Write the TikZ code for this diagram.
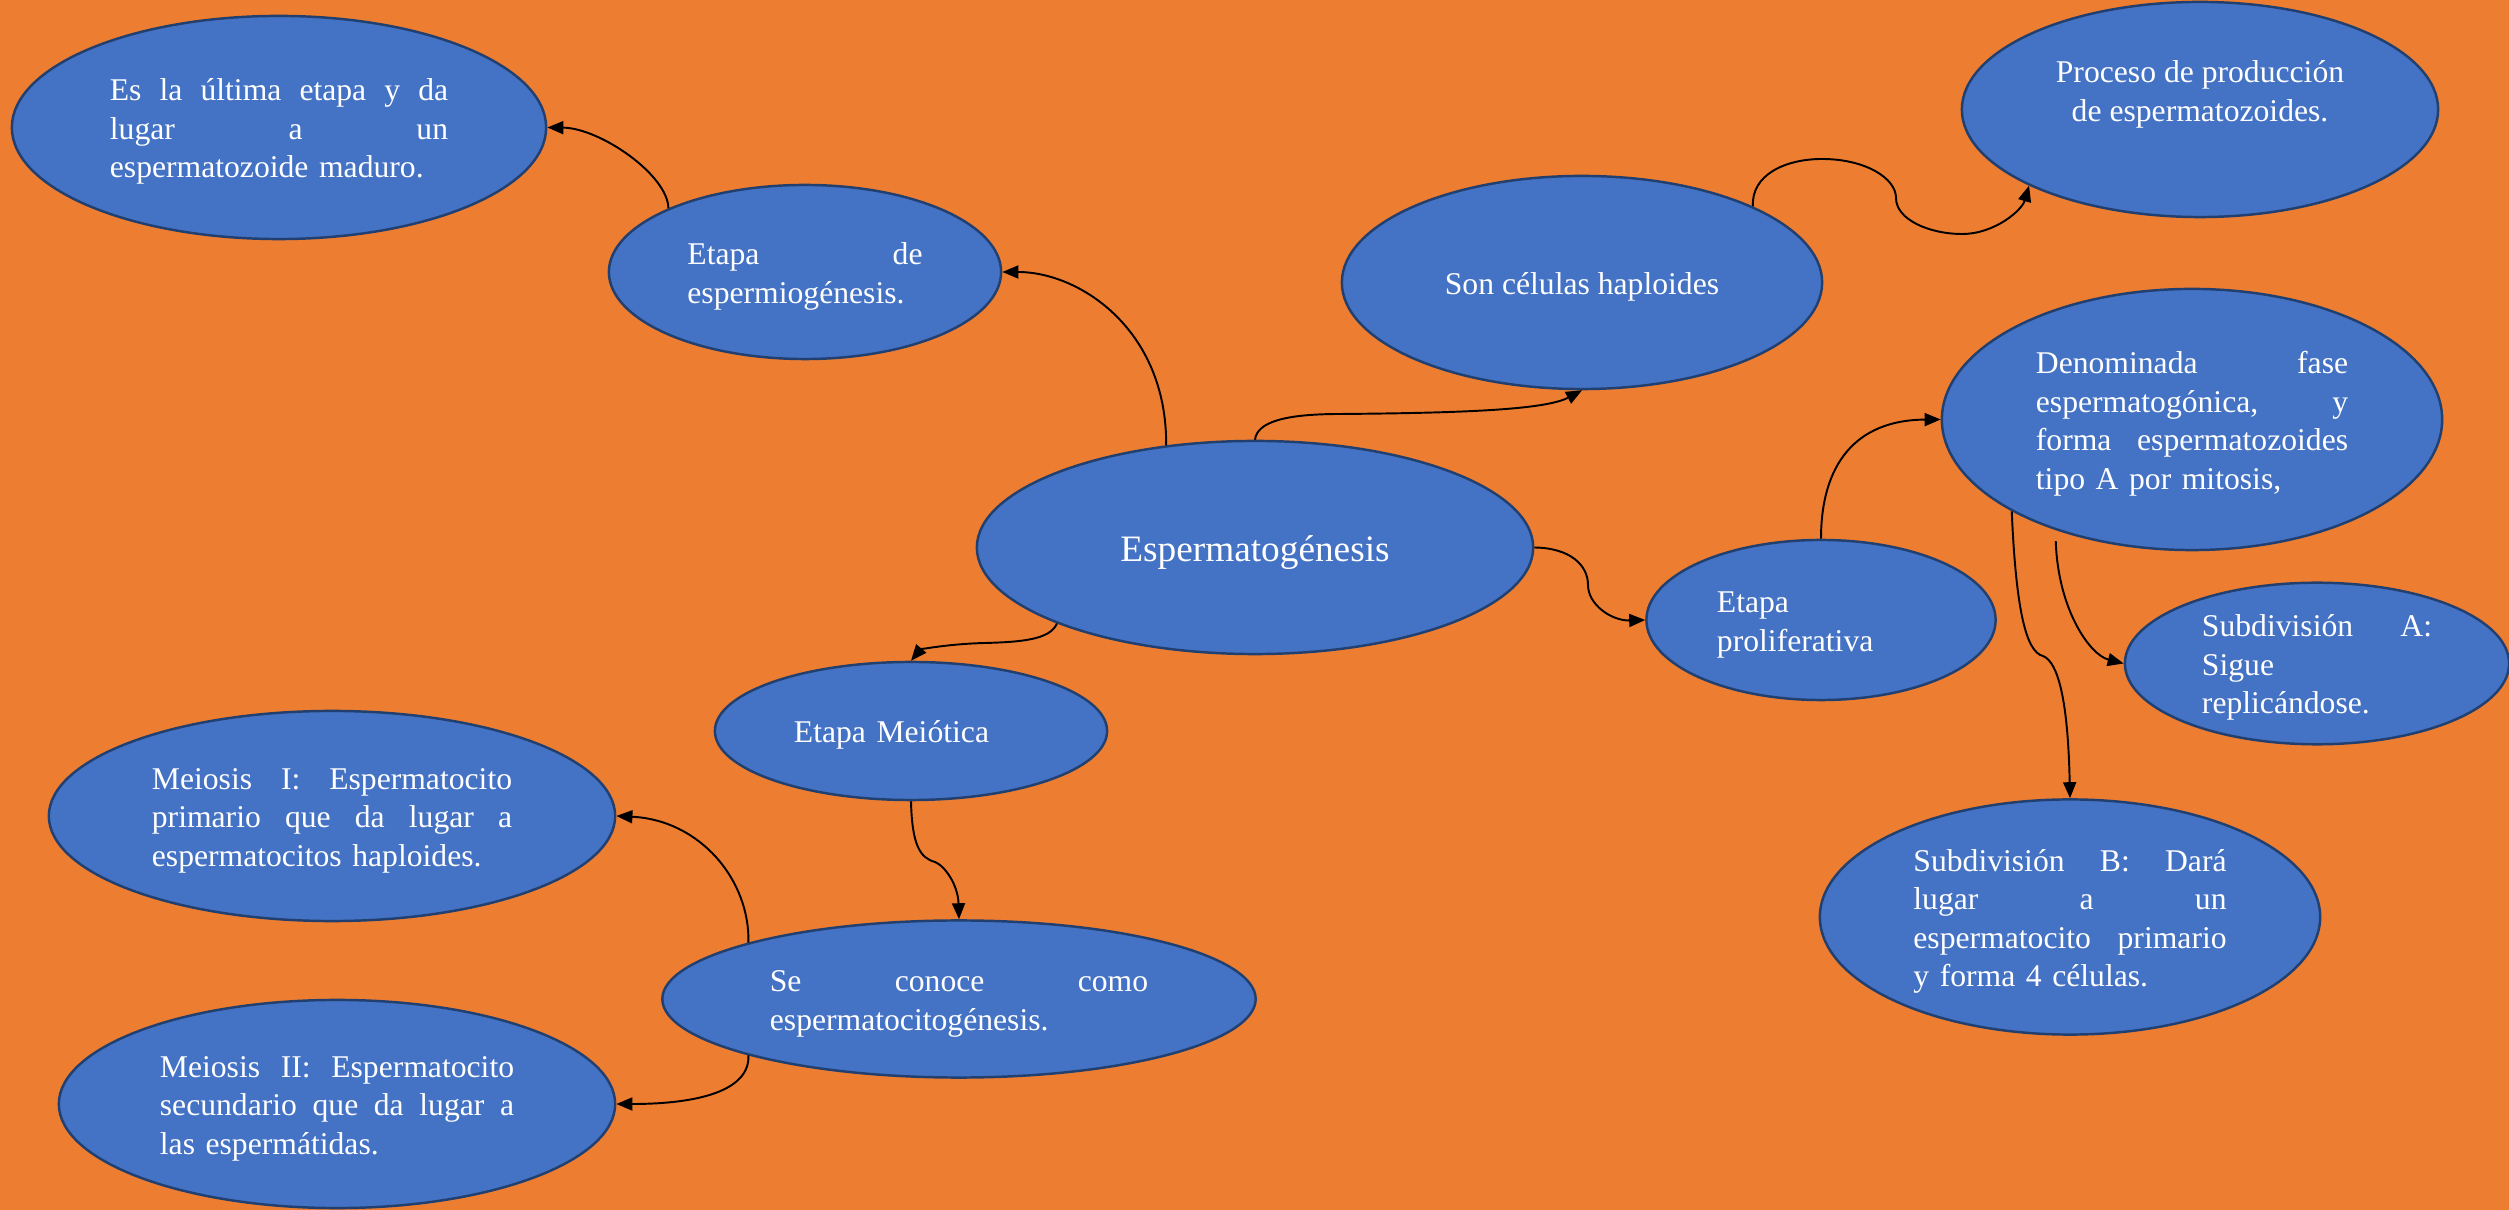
\documentclass[tikz,border=0pt]{standalone}
\usepackage{fontspec}
\setmainfont{Liberation Serif}
\usetikzlibrary{shapes.geometric,arrows.meta}
\definecolor{bg}{HTML}{ED7D31}
\definecolor{bubfill}{HTML}{4472C4}
\definecolor{bubline}{HTML}{22406F}
\newcommand{\jl}[2]{\hbox to #1{#2}}
\tikzset{
  bub/.style={ellipse, draw=bubline, line width=0.7pt, fill=bubfill, inner sep=0pt,
    text=white, font=\fontsize{9pt}{10.95pt}\selectfont, text height=0.305cm,
    execute at begin node=\setlength{\parindent}{0pt}},
  conn/.style={draw=black, line width=0.55pt, -{Triangle[length=0.16cm,width=0.13cm]}},
}
\begin{document}
\begin{tikzpicture}[x=0.01cm,y=-0.01cm]
\fill[bg] (0,0) rectangle (2509,1210);
\useasboundingbox (0,0) rectangle (2509,1210);

\node[bub, minimum width=5.34cm, minimum height=2.23cm, text width=3.38cm] (e1) at (279,127.5)
  {\jl{3.38cm}{Es\hfill la\hfill última\hfill etapa\hfill y\hfill da}\newline
   \jl{3.38cm}{lugar\hfill a\hfill un}\newline
   espermatozoide maduro.};
\node[bub, minimum width=3.92cm, minimum height=1.74cm, text width=2.35cm] (e2) at (805,272)
  {\jl{2.35cm}{Etapa\hfill de}\newline espermiogénesis.};
\node[bub, minimum width=4.80cm, minimum height=2.13cm] (e3) at (1582,282.5)
  {Son células haploides};
\node[bub, minimum width=4.76cm, minimum height=2.15cm, align=center] (e4) at (2200,109.5)
  {Proceso de producción\\de espermatozoides.};
\node[bub, minimum width=5.00cm, minimum height=2.61cm, text width=3.12cm] (e5) at (2192,419.5)
  {\jl{3.12cm}{Denominada\hfill fase}\newline
   \jl{3.12cm}{espermatogónica,\hfill y}\newline
   \jl{3.12cm}{forma\hfill espermatozoides}\newline
   tipo A por mitosis,};
\node[bub, minimum width=5.56cm, minimum height=2.13cm, text height=0.36cm,
      font=\fontsize{10.6pt}{12.7pt}\selectfont] (e6) at (1255,547.5)
  {Espermatogénesis};
\node[bub, minimum width=3.49cm, minimum height=1.60cm, text width=2.08cm] (e7) at (1821,620)
  {Etapa\newline proliferativa};
\node[bub, minimum width=3.84cm, minimum height=1.59cm, text width=2.30cm] (e8) at (2317,663.5)
  {\jl{2.30cm}{Subdivisión\hfill A:}\newline Sigue\newline replicándose.};
\node[bub, minimum width=3.92cm, minimum height=1.38cm, text width=2.34cm] (e9) at (911,731)
  {Etapa Meiótica};
\node[bub, minimum width=5.66cm, minimum height=2.10cm, text width=3.60cm] (e10) at (332,816)
  {\jl{3.60cm}{Meiosis\hfill I:\hfill Espermatocito}\newline
   \jl{3.60cm}{primario\hfill que\hfill da\hfill lugar\hfill a}\newline
   espermatocitos haploides.};
\node[bub, minimum width=5.93cm, minimum height=1.57cm, text width=3.78cm] (e11) at (959,999)
  {\jl{3.78cm}{Se\hfill conoce\hfill como}\newline espermatocitogénesis.};
\node[bub, minimum width=5.56cm, minimum height=2.08cm, text width=3.54cm] (e12) at (337,1104)
  {\jl{3.54cm}{Meiosis\hfill II:\hfill Espermatocito}\newline
   \jl{3.54cm}{secundario\hfill que\hfill da\hfill lugar\hfill a}\newline
   las espermátidas.};
\node[bub, minimum width=5.00cm, minimum height=2.35cm, text width=3.13cm] (e13) at (2070,917)
  {\jl{3.13cm}{Subdivisión\hfill B:\hfill Dará}\newline
   \jl{3.13cm}{lugar\hfill a\hfill un}\newline
   \jl{3.13cm}{espermatocito\hfill primario}\newline
   y forma 4 células.};

% connectors
\draw[conn] (e6.131) .. controls (1167,330) and (1080,272) .. (e2.east);
\draw[conn] (e2.155.6) .. controls (668,175) and (600,128) .. (e1.east);
\draw[conn] (e6.north) .. controls (1257,422) and (1285,414) .. (1340,414)
  .. controls (1460,413) and (1545,410) .. (e3.south);
\draw[conn] (e3.24.2) .. controls (1751,175) and (1785,159) .. (1822,159)
  .. controls (1865,159) and (1896,178) .. (1896,198)
  .. controls (1896,220) and (1930,234) .. (1962,234)
  .. controls (1995,234) and (2022,210) .. (e4.204.8);
\draw[conn] (e6.east) .. controls (1570,548) and (1588,565) .. (1588,585)
  .. controls (1588,605) and (1612,621) .. (e7.west);
\draw[conn] (e7.north) .. controls (1821,465) and (1855,420) .. (e5.west);
\draw[conn, shorten <=0.11cm] (e5.219.5) .. controls (2058,610) and (2090,655) .. (e8.west);
\draw[conn] (e5.207.6) .. controls (2016,610) and (2026,652) .. (2043,656)
  .. controls (2058,662) and (2068,700) .. (e13.north);
\draw[conn] (e6.201) .. controls (1050,640) and (1020,642) .. (985,643)
  .. controls (945,644) and (920,650) .. (e9.north);
\draw[conn] (e9.south) .. controls (912,845) and (920,858) .. (935,862)
  .. controls (945,866) and (958,885) .. (e11.north);
\draw[conn] (e11.165) .. controls (750,880) and (700,820) .. (e10.east);
\draw[conn] (e11.195) .. controls (750,1090) and (700,1104) .. (e12.east);
\end{tikzpicture}
\end{document}
